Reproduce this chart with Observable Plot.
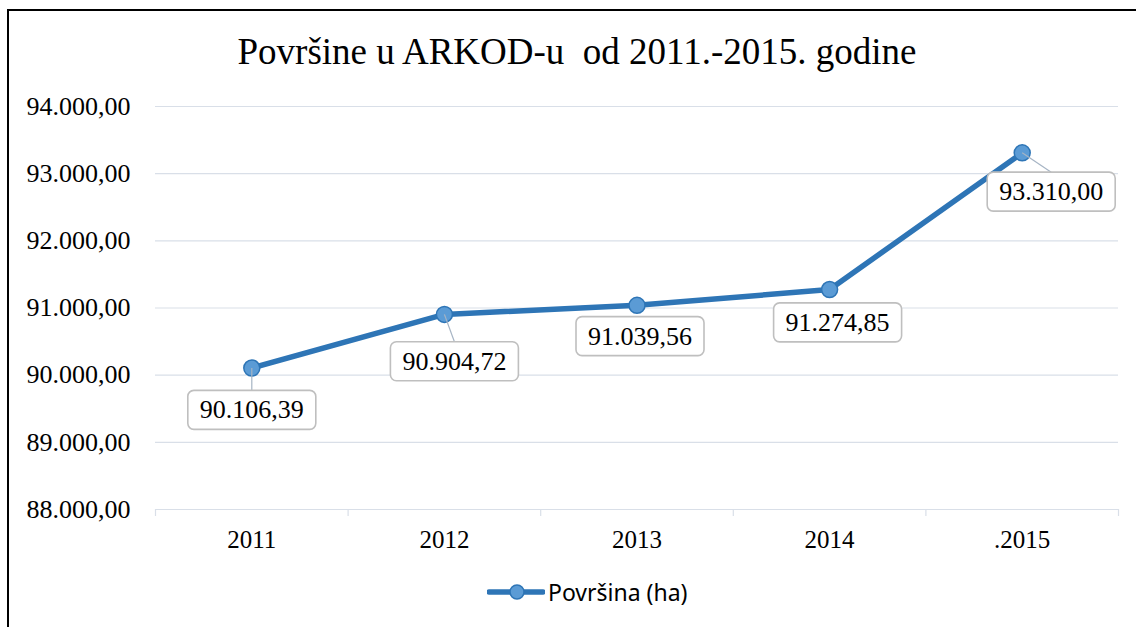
<!DOCTYPE html>
<html>
<head>
<meta charset="utf-8">
<script src="https://cdn.jsdelivr.net/npm/d3@7"></script>
<script src="https://cdn.jsdelivr.net/npm/@observablehq/plot@0.6"></script>
<style>
  html, body { margin: 0; padding: 0; background: #fff; }
  #wrap { position: relative; width: 1136px; height: 627px; overflow: hidden; background: #fff; }
  #frame { position: absolute; left: 7px; top: 9px; width: 1200px; height: 700px;
           border-left: 2px solid #000; border-top: 2px solid #000; box-sizing: border-box; }
  #title { position: absolute; left: 577px; top: 33px; transform: translateX(-50%);
           font-family: "Liberation Serif", "Times New Roman", serif; font-size: 37px;
           line-height: 37px; white-space: pre; color: #000; }
  #chart { position: absolute; left: 0; top: 0; }
  #chart text { font-family: "Liberation Serif", "Times New Roman", serif; }
  #legend { position: absolute; left: 487px; top: 578px; height: 28px; display: flex;
            align-items: center; font-family: "Noto Sans", sans-serif; font-size: 23px; color: #000; }
  #legend svg { display: block; }
  #legend span { margin-left: 3px; }
</style>
</head>
<body>
<div id="wrap">
  <div id="frame"></div>
  <div id="chart"></div>
  <div id="title"></div>
  <div id="legend"></div>
</div>
<script>
// ---- data ----
const titleText = "Površine u ARKOD-u  od 2011.-2015. godine";
const years = ["2011", "2012", "2013", "2014", ".2015"];
const values = [90106.39, 90904.72, 91039.56, 91274.85, 93310.00];
const yTicks = [88000, 89000, 90000, 91000, 92000, 93000, 94000];
const seriesName = "Površina (ha)";

// ---- styles ----
const lineColor = "#2E75B6";
const dotFill = "#5B9BD5";
const gridColor = "#d9dfe8";
const serif = '"Liberation Serif", "Times New Roman", serif';
// label offsets (px) relative to each point, and whether a leader line is drawn
const labelOffsets = [[0, 42], [10, 47], [3, 31], [8, 33], [29, 39]];
const labelLeaders = [true, true, false, false, true];

const loc = d3.formatLocale({decimal: ",", thousands: ".", grouping: [3], currency: ["", ""]});
const fmt = loc.format(",.2f");

const data = years.map((year, i) => ({year, i, value: values[i]}));
const xPos = d => d.i + 0.5;

document.getElementById("title").textContent = titleText;

const plot = Plot.plot({
  width: 1136,
  height: 627,
  marginLeft: 155,
  marginRight: 18,
  marginTop: 106,
  marginBottom: 118,
  style: {fontFamily: serif, fontSize: "26px", color: "#000", background: "transparent", overflow: "visible"},
  x: {type: "linear", domain: [0, years.length], label: null},
  y: {domain: [88000, 94000], label: null},
  marks: [
    Plot.gridY(yTicks, {stroke: gridColor, strokeOpacity: 1, strokeWidth: 1.2}),
    Plot.axisX(d3.range(years.length + 1), {tickSize: 7, tickFormat: () => "", label: null, stroke: gridColor, strokeOpacity: 1, strokeWidth: 1.2}),
    Plot.axisX(years.map((_, i) => i + 0.5), {tickSize: 0, tickPadding: 21, label: null, tickFormat: v => years[Math.floor(v)], fontFamily: serif, fontSize: 25, fill: "#000"}),
    Plot.axisY(yTicks, {tickSize: 0, tickPadding: 25, label: null, tickFormat: fmt, fontFamily: serif, fontSize: 26, fill: "#000"}),
    Plot.line(data, {x: xPos, y: "value", stroke: lineColor, strokeWidth: 5.5, strokeLinejoin: "round", strokeLinecap: "round"}),
    Plot.dot(data, {x: xPos, y: "value", r: 8, fill: dotFill, stroke: lineColor, strokeWidth: 1.5}),
    ...data.map((d, i) => Plot.text([d], {
      x: xPos, y: "value", text: e => fmt(e.value),
      dx: labelOffsets[i][0], dy: labelOffsets[i][1],
      fontFamily: serif, fontSize: 26, fill: "#000"
    }))
  ]
});
document.getElementById("chart").appendChild(plot);

// ---- label boxes and leader lines ----
const svgNS = "http://www.w3.org/2000/svg";
const svgBox = plot.getBoundingClientRect();
const dots = plot.querySelectorAll('g[aria-label="dot"] circle');
const labelGroups = plot.querySelectorAll('g[aria-label="text"]');
const leaderLayer = document.createElementNS(svgNS, "g");
if (labelGroups.length) labelGroups[0].parentNode.insertBefore(leaderLayer, labelGroups[0]);
labelGroups.forEach((g, i) => {
  const t = g.querySelector("text");
  if (!t) return;
  const bb = t.getBBox();
  const padX = 12, padY = 6;
  const rect = document.createElementNS(svgNS, "rect");
  rect.setAttribute("x", bb.x - padX);
  rect.setAttribute("y", bb.y - padY + 1);
  rect.setAttribute("width", bb.width + 2 * padX);
  rect.setAttribute("height", bb.height + 2 * padY - 2);
  rect.setAttribute("rx", 6);
  rect.setAttribute("fill", "#fff");
  rect.setAttribute("stroke", "#bfbfbf");
  rect.setAttribute("stroke-width", 1.6);
  const tr = t.getAttribute("transform");
  if (tr) rect.setAttribute("transform", tr);
  t.parentNode.insertBefore(rect, t);
  if (labelLeaders[i] && dots[i]) {
    const dr = dots[i].getBoundingClientRect();
    const rr = rect.getBoundingClientRect();
    const line = document.createElementNS(svgNS, "line");
    line.setAttribute("x1", dr.left + dr.width / 2 - svgBox.left);
    line.setAttribute("y1", dr.top + dr.height / 2 - svgBox.top);
    line.setAttribute("x2", rr.left + rr.width / 2 - svgBox.left);
    line.setAttribute("y2", rr.top - svgBox.top);
    line.setAttribute("stroke", "#a6b4c4");
    line.setAttribute("stroke-width", 1.2);
    leaderLayer.appendChild(line);
  }
});

// ---- legend ----
const legend = document.getElementById("legend");
legend.innerHTML = `<svg width="58" height="28"><line x1="2" y1="14" x2="56" y2="14" stroke="${lineColor}" stroke-width="5.5" stroke-linecap="round"/><circle cx="30" cy="14" r="7" fill="${dotFill}" stroke="${lineColor}" stroke-width="1.5"/></svg>`;
const span = document.createElement("span");
span.textContent = seriesName;
legend.appendChild(span);
</script>
</body>
</html>
